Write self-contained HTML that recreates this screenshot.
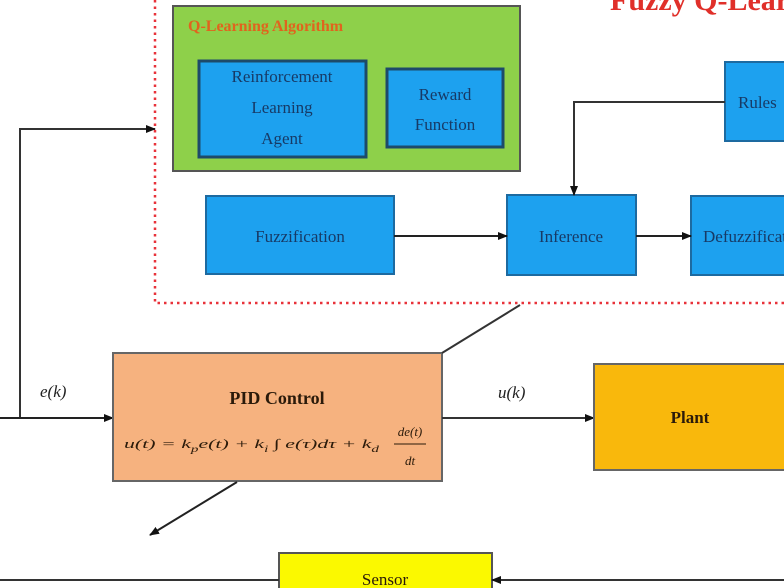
<!DOCTYPE html>
<html><head><meta charset="utf-8"><style>
html,body{margin:0;padding:0;background:#fff;}
svg{display:block;}
text{font-family:"Liberation Serif",serif;}
</style></head><body>
<svg width="784" height="588" viewBox="0 0 784 588" xmlns="http://www.w3.org/2000/svg">
<defs>
<marker id="a" markerWidth="10" markerHeight="8" refX="9" refY="4" orient="auto" markerUnits="userSpaceOnUse"><path d="M0,0 L10,4 L0,8 Z" fill="#111"/></marker>
</defs>
<text x="610" y="10" font-size="30" font-weight="bold" fill="#e0302a">Fuzzy Q-Learning</text>
<path d="M155,0 V303 H784" fill="none" stroke="#e8323a" stroke-width="2.5" stroke-dasharray="2.5,4"/>
<rect x="173" y="6" width="347" height="165" fill="#8ed04a" stroke="#555" stroke-width="2"/>
<text x="188" y="31" font-size="16" font-weight="bold" fill="#e0641e">Q-Learning Algorithm</text>
<rect x="199" y="61" width="167" height="96" fill="#1da1ef" stroke="#1d4a6a" stroke-width="3"/>
<text font-size="17" fill="#173a66" text-anchor="middle"><tspan x="282" y="82">Reinforcement</tspan><tspan x="282" y="113">Learning</tspan><tspan x="282" y="144">Agent</tspan></text>
<rect x="387" y="69" width="116" height="78" fill="#1da1ef" stroke="#1d4a6a" stroke-width="3"/>
<text font-size="17" fill="#173a66" text-anchor="middle"><tspan x="445" y="100">Reward</tspan><tspan x="445" y="130">Function</tspan></text>
<rect x="206" y="196" width="188" height="78" fill="#1da1ef" stroke="#1d6aa0" stroke-width="2"/>
<text x="300" y="242" font-size="17" fill="#173a66" text-anchor="middle">Fuzzification</text>
<rect x="507" y="195" width="129" height="80" fill="#1da1ef" stroke="#1d6aa0" stroke-width="2"/>
<text x="571" y="242" font-size="17" fill="#173a66" text-anchor="middle">Inference</text>
<rect x="691" y="196" width="100" height="79" fill="#1da1ef" stroke="#1d6aa0" stroke-width="2"/>
<text x="703" y="242" font-size="17" fill="#173a66">Defuzzification</text>
<rect x="725" y="62" width="70" height="79" fill="#1da1ef" stroke="#1d6aa0" stroke-width="2"/>
<text x="738" y="108" font-size="17" fill="#173a66">Rules</text>
<line x1="394" y1="236" x2="507" y2="236" stroke="#222" stroke-width="2" marker-end="url(#a)"/>
<line x1="636" y1="236" x2="691" y2="236" stroke="#222" stroke-width="2" marker-end="url(#a)"/>
<path d="M725,102 H574 V195" fill="none" stroke="#333" stroke-width="2" marker-end="url(#a)"/>
<path d="M20,418 V129 H155" fill="none" stroke="#333" stroke-width="2" marker-end="url(#a)"/>
<line x1="0" y1="418" x2="113" y2="418" stroke="#222" stroke-width="2" marker-end="url(#a)"/>
<text x="40" y="397" font-size="17" font-style="italic" fill="#222">e(k)</text>
<rect x="113" y="353" width="329" height="128" fill="#f6b27f" stroke="#666" stroke-width="2"/>
<text x="277" y="404" font-size="18" font-weight="bold" fill="#2a1a0a" text-anchor="middle">PID Control</text>
<text x="124" y="448" font-size="13" font-style="italic" fill="#2a1a0a" textLength="255" lengthAdjust="spacingAndGlyphs">u(t) = k<tspan font-size="9" dy="4">p</tspan><tspan dy="-4">e(t) + k</tspan><tspan font-size="9" dy="4">i</tspan><tspan dy="-4"> ∫ e(τ)dτ + k</tspan><tspan font-size="9" dy="4">d</tspan></text>
<text x="410" y="436" font-size="13" font-style="italic" fill="#2a1a0a" text-anchor="middle">de(t)</text>
<line x1="394" y1="444" x2="426" y2="444" stroke="#2a1a0a" stroke-width="1"/>
<text x="410" y="465" font-size="13" font-style="italic" fill="#2a1a0a" text-anchor="middle">dt</text>
<line x1="442" y1="353" x2="520" y2="305" stroke="#333" stroke-width="2"/>
<line x1="237" y1="482" x2="150" y2="535" stroke="#222" stroke-width="2" marker-end="url(#a)"/>
<line x1="442" y1="418" x2="594" y2="418" stroke="#333" stroke-width="2" marker-end="url(#a)"/>
<text x="498" y="398" font-size="17" font-style="italic" fill="#222">u(k)</text>
<rect x="594" y="364" width="200" height="106" fill="#f9b80c" stroke="#666" stroke-width="2"/>
<text x="690" y="423" font-size="17" font-weight="bold" fill="#2a1a0a" text-anchor="middle">Plant</text>
<rect x="279" y="553" width="213" height="45" fill="#fbf900" stroke="#555" stroke-width="2"/>
<text x="385" y="585" font-size="17" fill="#2a1a0a" text-anchor="middle">Sensor</text>
<line x1="0" y1="580" x2="279" y2="580" stroke="#333" stroke-width="2"/>
<line x1="784" y1="580" x2="492" y2="580" stroke="#333" stroke-width="2" marker-end="url(#a)"/>
</svg>
</body></html>
